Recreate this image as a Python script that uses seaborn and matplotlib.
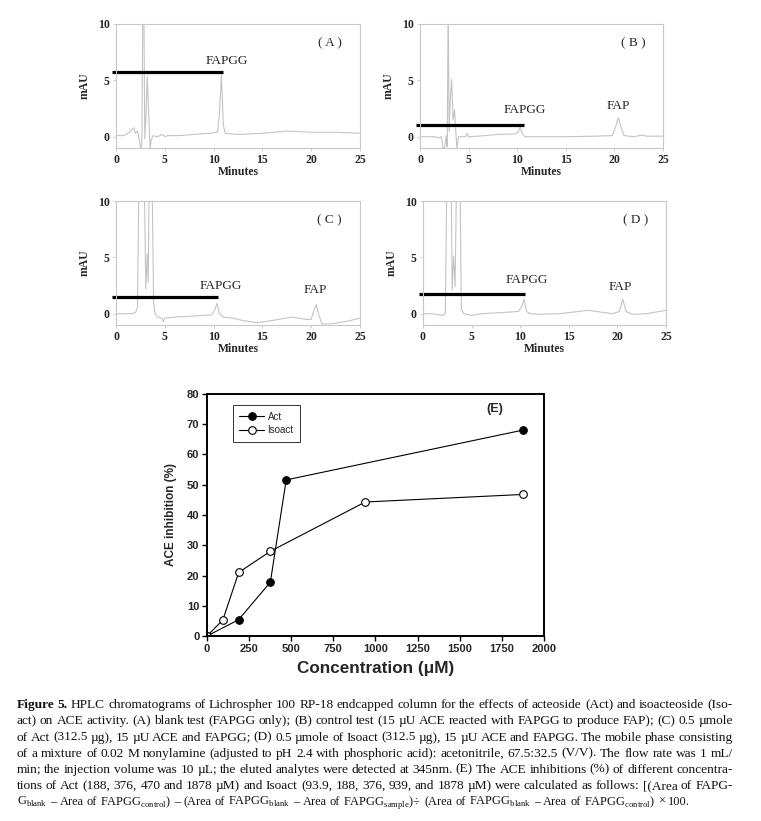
import numpy as np
import pandas as pd
import matplotlib
matplotlib.use("Agg")
import matplotlib.pyplot as plt
import seaborn as sns

# chromatogram traces (minutes, mAU)
t_a = [0, 0.8, 1.4, 1.8, 2.0, 2.2, 2.4, 2.55, 2.65, 2.75, 2.85, 2.95, 3.05, 3.2, 3.35, 3.5, 3.6, 3.8,
       4.2, 4.8, 5.0, 5.3, 6.5, 8.0, 9.5, 10.4, 10.6, 10.8, 11.0, 11.2, 12.5, 15, 17.5, 20, 22.5, 25]
y_a = [0.1, 0.1, 0.4, 0.8, 0.3, 0.5, -0.3, -1.2, -0.5, 12, 12, -0.2, 1.5, 5.4, 2.0, -1.2, -0.3, 0.1,
       0.0, 0.2, 0.0, 0.1, 0.1, 0.2, 0.3, 0.4, 2.0, 5.5, 1.0, 0.3, 0.2, 0.3, 0.5, 0.4, 0.4, 0.3]

t_b = [0, 1.5, 2.0, 2.2, 2.35, 2.5, 2.7, 2.8, 2.9, 3.0, 3.1, 3.25, 3.4, 3.55, 3.65, 3.8, 3.95, 4.2,
       4.7, 4.85, 5.0, 6, 8, 9.8, 10.1, 10.3, 10.5, 10.8, 12, 15, 18, 19.8, 20.1, 20.4, 20.7, 21.0,
       22.0, 22.8, 23.3, 25]
y_b = [0, 0, -0.1, 0.0, -0.9, -1.1, 0.1, -0.9, 12, 0.5, 3.0, 5.1, 1.5, 2.4, 1.0, -1.1, 0.0, 0.0,
       0.0, 0.3, 0.0, 0.05, 0.2, 0.25, 0.4, 0.9, 0.3, 0.0, 0.0, 0.0, 0.05, 0.1, 0.8, 1.7, 0.8, 0.1,
       0.0, 0.15, 0.05, 0.05]

t_c = [0, 1.5, 2.0, 2.2, 2.35, 2.5, 2.9, 3.05, 3.2, 3.3, 3.4, 3.5, 3.7, 3.85, 4.0, 4.3, 4.7, 4.85,
       5.0, 6, 8, 9.8, 10.1, 10.35, 10.6, 11, 12, 13, 14.5, 16, 18, 19.5, 20.0, 20.25, 20.5, 20.75,
       21.1, 22, 23.5, 25]
y_c = [0.0, 0.0, 0.1, 0.6, 12, 12, 12, 2.2, 5.3, 2.8, 12, 12, 12, 1.0, 0.0, -0.3, -0.4, -0.7,
       -0.4, -0.3, -0.2, -0.1, 0.3, 0.9, 0.0, -0.3, -0.4, -0.6, -0.8, -0.6, -0.3, -0.5, -0.5, 0.2,
       0.8, 0.0, -0.9, -0.9, -0.7, -0.4]

t_d = [0, 1.0, 2.0, 2.3, 2.45, 2.9, 3.0, 3.15, 3.3, 3.45, 3.8, 3.95, 4.2, 5.0, 6, 8, 9.8, 10.15,
       10.4, 10.65, 11, 12, 14, 17, 19.5, 20.2, 20.55, 20.9, 21.5, 23, 25]
y_d = [0.0, 0.0, -0.15, 0.0, 12, 12, 2.1, 5.1, 2.4, 12, 12, 0.4, 0.0, -0.15, 0.0, 0.1, 0.2, 0.6,
       1.3, 0.2, 0.0, -0.05, 0.0, 0.3, 0.0, 0.2, 1.3, 0.2, -0.05, 0.0, 0.3]

# black bar (start, end, level) per panel
bar_a = (-0.45, 11.0, 5.7)
bar_b = (-0.4, 10.7, 1.05)
bar_c = (-0.45, 10.5, 1.5)
bar_d = (-0.45, 10.45, 1.75)

# inhibition data (E)
act_conc = [0, 188, 376, 470, 1878]
act_inh = [0, 5.4, 17.8, 51.6, 68.1]
iso_conc = [0, 93.9, 188, 376, 939, 1878]
iso_inh = [0, 5.3, 21.0, 28.0, 44.3, 46.8]

caption_lines = [
    "Figure 5. HPLC chromatograms of Lichrospher 100 RP-18 endcapped column for the effects of acteoside (Act) and isoacteoside (Iso-",
    "act) on ACE activity. (A) blank test (FAPGG only); (B) control test (15 \u00b5U ACE reacted with FAPGG to produce FAP); (C) 0.5 \u00b5mole",
    "of Act (312.5 \u00b5g), 15 \u00b5U ACE and FAPGG; (D) 0.5 \u00b5mole of Isoact (312.5 \u00b5g), 15 \u00b5U ACE and FAPGG. The mobile phase consisting",
    "of a mixture of 0.02 M nonylamine (adjusted to pH 2.4 with phosphoric acid): acetonitrile, 67.5:32.5 (V/V). The flow rate was 1 mL/",
    "min; the injection volume was 10 \u00b5L; the eluted analytes were detected at 345nm. (E) The ACE inhibitions (%) of different concentra-",
    "tions of Act (188, 376, 470 and 1878 \u00b5M) and Isoact (93.9, 188, 376, 939, and 1878 \u00b5M) were calculated as follows: [(Area of FAPG-",
    "G$_{\\mathrm{blank}}$ \u2013 Area of FAPGG$_{\\mathrm{control}}$) \u2013 (Area of FAPGG$_{\\mathrm{blank}}$ \u2013 Area of "
    "FAPGG$_{\\mathrm{sample}}$)\u00f7 (Area of FAPGG$_{\\mathrm{blank}}$ \u2013 Area of FAPGG$_{\\mathrm{control}}$) \u00d7 100.",
]

sns.set_theme(style="ticks")
plt.rcParams['font.family'] = ['Liberation Serif', 'DejaVu Sans']
plt.rcParams['mathtext.fontset'] = 'custom'
plt.rcParams['mathtext.rm'] = 'Liberation Serif'

W, H = 761, 821
fig = plt.figure(figsize=(W / 100, H / 100), dpi=100)
fig.patch.set_facecolor('white')


def px_axes(left, top, right, bottom):
    return fig.add_axes([left / W, 1 - bottom / H, (right - left) / W, (bottom - top) / H])


def chrom(ax, t, y, bar, label, peaks):
    sns.lineplot(x=t, y=y, ax=ax, sort=False, estimator=None, color='#c4c4c4', linewidth=0.8)
    ax.plot([bar[0], bar[1]], [bar[2], bar[2]], color='black', linewidth=2.3, clip_on=False, solid_capstyle='butt')
    ax.set_xlim(0, 25)
    ax.set_ylim(-1, 10)
    ax.set_xticks([0, 5, 10, 15, 20, 25])
    ax.set_yticks([0, 5, 10])
    ax.set_facecolor('white')
    for s in ax.spines.values():
        s.set_color('#c8c8c8')
        s.set_linewidth(0.8)
    ax.tick_params(length=2.5, width=0.6, color='#c8c8c8', labelsize=8.5, pad=2)
    for lb in ax.get_xticklabels() + ax.get_yticklabels():
        lb.set_fontweight('bold')
    ax.set_xlabel('Minutes', fontsize=8.5, fontweight='bold', labelpad=0)
    ax.set_ylabel('mAU', fontsize=8.5, fontweight='bold', labelpad=5)
    ax.text(21.9, 8.3, label, fontsize=9.5, ha='center', va='center')
    for txt, x, yy in peaks:
        ax.text(x, yy, txt, fontsize=9.5, ha='center', va='center')


ax_a = px_axes(116, 24, 360, 148)
chrom(ax_a, t_a, y_a, bar_a, '( A )', [('FAPGG', 11.35, 6.7)])
ax_b = px_axes(420, 24, 663, 148)
chrom(ax_b, t_b, y_b, bar_b, '( B )', [('FAPGG', 10.8, 2.4), ('FAP', 20.4, 2.75)])
ax_c = px_axes(116, 201, 360, 325)
chrom(ax_c, t_c, y_c, bar_c, '( C )', [('FAPGG', 10.7, 2.5), ('FAP', 20.4, 2.1)])
ax_d = px_axes(423, 201, 666, 325)
chrom(ax_d, t_d, y_d, bar_d, '( D )', [('FAPGG', 10.7, 2.95), ('FAP', 20.3, 2.35)])

# panel E
ax_e = px_axes(207, 394, 544, 636)
sans = ['Liberation Sans', 'DejaVu Sans']
sns.lineplot(x=act_conc, y=act_inh, ax=ax_e, color='black', linewidth=0.8, marker='o', markersize=5.5,
             markerfacecolor='black', markeredgecolor='black', label='Act', estimator=None, sort=False)
sns.lineplot(x=iso_conc, y=iso_inh, ax=ax_e, color='black', linewidth=0.8, marker='o', markersize=5.5,
             markerfacecolor='white', markeredgecolor='black', markeredgewidth=0.8, label='Isoact',
             estimator=None, sort=False)
ax_e.set_xlim(0, 2000)
ax_e.set_ylim(0, 80)
ax_e.set_xticks(range(0, 2001, 250))
ax_e.set_yticks(range(0, 81, 10))
for s in ax_e.spines.values():
    s.set_color('black')
    s.set_linewidth(1.4)
ax_e.tick_params(direction='out', length=3.5, width=1.0, color='black', labelsize=8, pad=2)
for lb in ax_e.get_xticklabels() + ax_e.get_yticklabels():
    lb.set_family(sans)
    lb.set_fontweight('bold')
ax_e.set_xlabel('Concentration (\u03bcM)', fontsize=12.3, fontweight='bold', family=sans, labelpad=5)
ax_e.set_ylabel('ACE inhibition (%)', fontsize=8.5, fontweight='bold', family=sans, labelpad=7)
ax_e.text(1709, 75, '(E)', fontsize=9, fontweight='bold', family=sans, ha='center', va='center')
leg = ax_e.legend(loc='upper left', bbox_to_anchor=(0.076, 0.955), frameon=True, fancybox=False,
                  prop={'family': sans, 'size': 7}, handlelength=2.5, borderpad=0.7,
                  labelspacing=0.35, handletextpad=0.4, borderaxespad=0)
leg.get_frame().set_edgecolor('black')
leg.get_frame().set_linewidth(0.7)

# caption, justified word by word; last line is left-aligned and a bit smaller
renderer = fig.canvas.get_renderer()
x_left, x_right = 16.7, 732.7
for i, line in enumerate(caption_lines):
    last = i == len(caption_lines) - 1
    size = 8.9 if last else 9.6
    base_y = 708.3 + 16.1 * i
    words = line.split(' ')
    texts = []
    for j, w in enumerate(words):
        weight = 'bold' if (i == 0 and j < 2) else 'normal'
        texts.append(fig.text(0, 1 - base_y / H, w, fontsize=size, fontweight=weight,
                              family='Liberation Serif', va='baseline', ha='left', color='#111111'))
    widths = [t.get_window_extent(renderer).width for t in texts]
    if last:
        gap = size * 0.25 * 100 / 72
    else:
        gap = (x_right - x_left - sum(widths)) / (len(words) - 1)
    x = x_left
    for t, w in zip(texts, widths):
        t.set_x(x / W)
        x += w + gap

fig.savefig('out.png', dpi=100, facecolor='white')
